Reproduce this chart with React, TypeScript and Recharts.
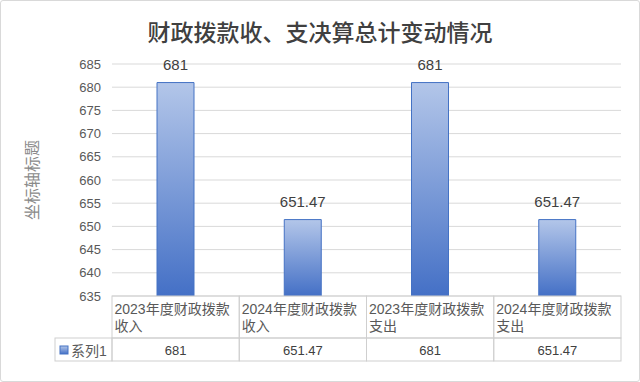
import React from "react";
import { BarChart, Bar, XAxis, YAxis, CartesianGrid, LabelList } from "recharts";

// ─── Data ─────────────────────────────────────────────────────────────────────

const categories = [
  "2023年度财政拨款收入",
  "2024年度财政拨款收入",
  "2023年度财政拨款支出",
  "2024年度财政拨款支出",
];
const series1 = [681, 651.47, 681, 651.47];
const yTicks = [635, 640, 645, 650, 655, 660, 665, 670, 675, 680, 685];

const seriesName = "系列1";
const title = "财政拨款收、支决算总计变动情况";
const yAxisTitle = "坐标轴标题";

const data = categories.map((name, i) => ({ name, value: series1[i] }));

// ─── Layout ───────────────────────────────────────────────────────────────────

const W = 640;
const H = 382;
const PLOT_LEFT = 112;
const PLOT_RIGHT = 621;
const PLOT_TOP = 64;
const PLOT_BOTTOM = 296;
const COL_W = (PLOT_RIGHT - PLOT_LEFT) / categories.length;
const HEADER_H = 42;
const VALUE_H = 23;

const FONT = '"Liberation Sans", "Noto Sans CJK SC", sans-serif';
const BORDER = "#cfcfcf";

// ─── Ticks ────────────────────────────────────────────────────────────────────

function YTick({ y, payload }: any) {
  return (
    <text x={101} y={y} textAnchor="end" dominantBaseline="central" fontSize={13} fill="#595959" fontFamily={FONT}>
      {payload.value}
    </text>
  );
}

// data table under the plot, one column per category
function TableTick({ x, payload, index }: any) {
  const i = index ?? payload.index;
  const left = x - COL_W / 2;
  const label: string = payload.value;
  const line1 = label.slice(0, 10);
  const line2 = label.slice(10);
  const valTop = PLOT_BOTTOM + HEADER_H;
  return (
    <g fontFamily={FONT}>
      <rect x={left} y={PLOT_BOTTOM} width={COL_W} height={HEADER_H} fill="none" stroke={BORDER} />
      <rect x={left} y={valTop} width={COL_W} height={VALUE_H} fill="none" stroke={BORDER} />
      <text x={left + 2.5} y={PLOT_BOTTOM + 12.5} dominantBaseline="central" fontSize={14} fill="#595959">
        {line1}
      </text>
      <text x={left + 2.5} y={PLOT_BOTTOM + 30} dominantBaseline="central" fontSize={14} fill="#595959">
        {line2}
      </text>
      <text x={x} y={valTop + VALUE_H / 2 + 1} textAnchor="middle" dominantBaseline="central" fontSize={13} fill="#404040">
        {series1[i]}
      </text>
      {i === 0 && (
        <g>
          <rect x={55} y={valTop} width={PLOT_LEFT - 55} height={VALUE_H} fill="none" stroke={BORDER} />
          <rect x={60} y={valTop + 8} width={8} height={8} fill="url(#barGradient)" stroke="#4472c4" />
          <text x={71} y={valTop + VALUE_H / 2 + 1} dominantBaseline="central" fontSize={14} fill="#595959">
            {seriesName}
          </text>
        </g>
      )}
    </g>
  );
}

function YTitle() {
  return (
    <text
      x={32}
      y={180}
      transform="rotate(-90 32 180)"
      textAnchor="middle"
      dominantBaseline="central"
      fontSize={16}
      fill="#8a8a8a"
      fontFamily={FONT}
    >
      {yAxisTitle}
    </text>
  );
}

// ─── App ──────────────────────────────────────────────────────────────────────

export default function App() {
  return (
    <div style={{ position: "absolute", left: 0, top: 0, width: W, height: H, background: "#fff" }}>
      <div
        style={{
          position: "absolute",
          left: 0,
          top: 0,
          width: W - 2,
          height: H - 2,
          border: "1px solid #d9d9d9",
          borderRadius: 3,
          pointerEvents: "none",
        }}
      />
      <div
        style={{
          position: "absolute",
          left: 0,
          top: 17,
          width: W,
          textAlign: "center",
          fontFamily: FONT,
          fontSize: 23,
          fontWeight: 500,
          color: "#404040",
          lineHeight: "32px",
        }}
      >
        {title}
      </div>
      <BarChart
        width={W}
        height={H}
        data={data}
        margin={{ top: PLOT_TOP, right: W - PLOT_RIGHT, bottom: 0, left: 0 }}
      >
        <defs>
          <linearGradient id="barGradient" x1="0" y1="0" x2="0" y2="1">
            <stop offset="0%" stopColor="#b3c6e9" />
            <stop offset="100%" stopColor="#4470c6" />
          </linearGradient>
        </defs>
        <CartesianGrid stroke="#d9d9d9" vertical={false} />
        <YAxis
          width={PLOT_LEFT}
          domain={[635, 685]}
          ticks={yTicks}
          interval={0}
          allowDataOverflow
          axisLine={false}
          tickLine={false}
          tick={<YTick />}
          label={<YTitle />}
        />
        <XAxis
          dataKey="name"
          height={H - PLOT_BOTTOM}
          axisLine={false}
          tickLine={false}
          interval={0}
          tick={<TableTick />}
        />
        <Bar dataKey="value" barSize={37} fill="url(#barGradient)" stroke="#4472c4" strokeWidth={1} isAnimationActive={false}>
          <LabelList dataKey="value" position="top" offset={13} fontSize={15} fill="#404040" fontFamily={FONT} />
        </Bar>
      </BarChart>
    </div>
  );
}
